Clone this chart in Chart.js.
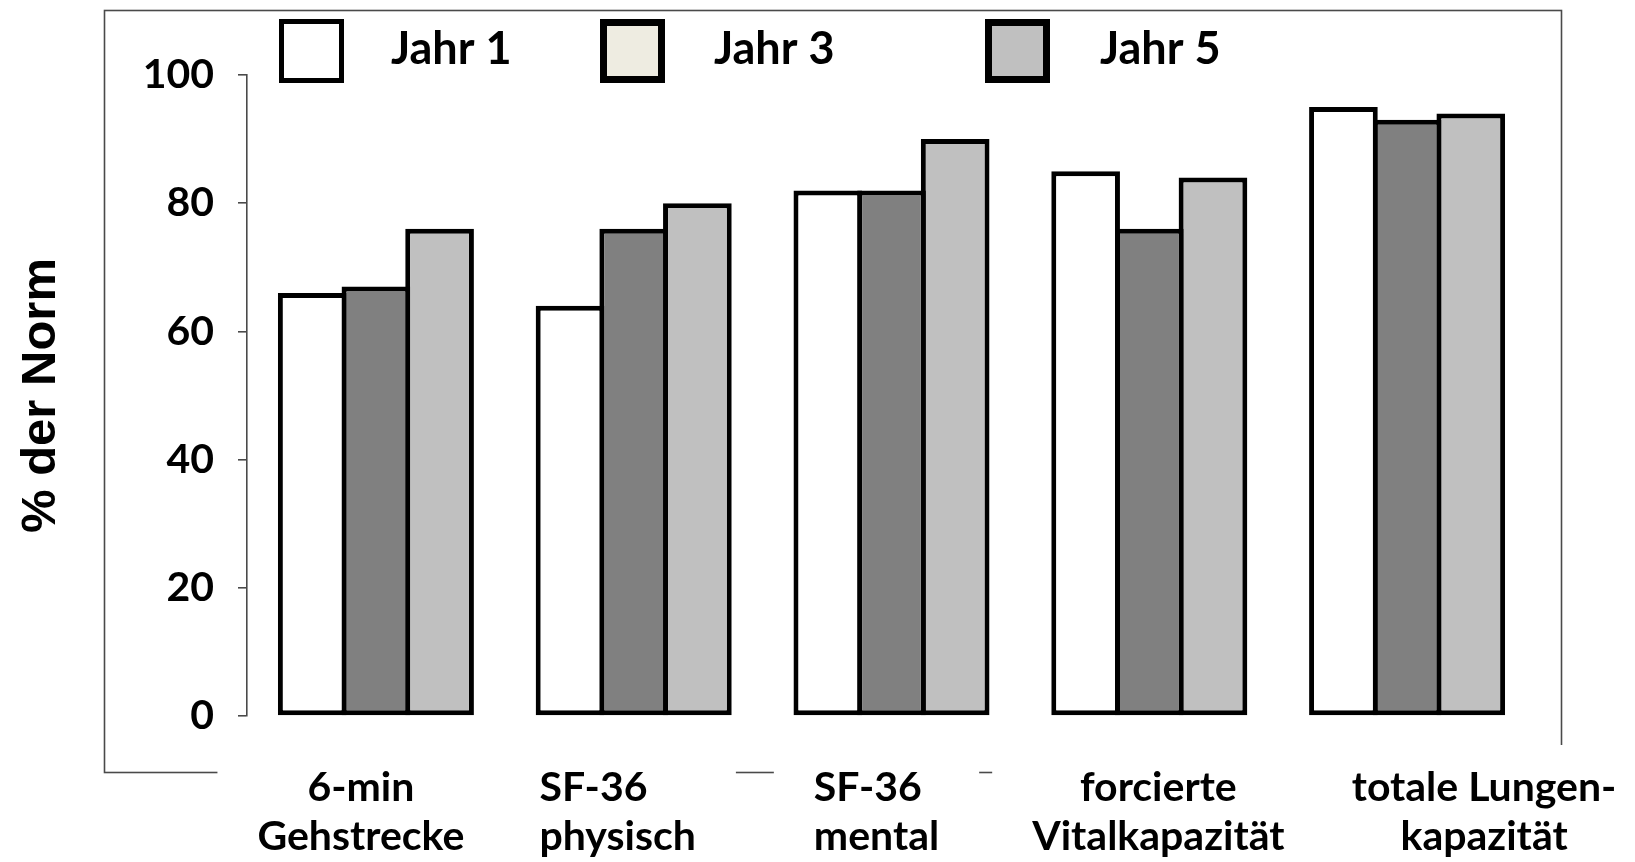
<!DOCTYPE html>
<html>
<head>
<meta charset="utf-8">
<script src="https://cdn.jsdelivr.net/npm/chart.js@4/dist/chart.umd.min.js"></script>
<style>
  html, body { margin: 0; padding: 0; background: #ffffff; }
  #wrap { width: 1635px; height: 862px; }
</style>
</head>
<body>
<div id="wrap"><canvas id="c" width="1635" height="862"></canvas></div>
<script>
// Outcome measures, each as two label lines
const categories = [
  ["6-min", "Gehstrecke"],
  ["SF-36", "physisch"],
  ["SF-36", "mental"],
  ["forcierte", "Vitalkapazität"],
  ["totale Lungen-", "kapazität"]
];
const seriesNames = ["Jahr 1", "Jahr 3", "Jahr 5"];
// % der Norm per year
const jahr1 = [66, 64, 82, 85, 95];
const jahr3 = [67, 76, 82, 76, 93];
const jahr5 = [76, 80, 90, 84, 94];
const yTicks = [0, 20, 40, 60, 80, 100];

const barFill = ["#ffffff", "#808080", "#c0c0c0"];
const legendFill = ["#ffffff", "#eeece1", "#c0c0c0"];
const legendBorder = [5, 7, 7];
const legendSlots = [
  { box: 279, text: 391 },
  { box: 600, text: 714 },
  { box: 985, text: 1100 }
];
// horizontal placement of each category label block relative to its group
const labelShift = [-15, -16, -15, 9, 77];
const labelAlign = ['center', 'left', 'left', 'center', 'center'];

const CALIBRI_LIKE = "Lato, 'Open Sans', sans-serif";
const ARIAL_LIKE = "'Liberation Sans', Arial, sans-serif";
const CAT_FONT = { family: CALIBRI_LIKE, weight: 'bold', size: 41, lineHeight: '49px' };

// outer chart frame; the category labels sit on white boxes that hide parts of its lower edge
const framePlugin = {
  id: 'frame',
  beforeDraw(chart) {
    const ctx = chart.ctx;
    ctx.save();
    ctx.strokeStyle = '#4a4a4a';
    ctx.lineWidth = 1.6;
    ctx.strokeRect(104.5, 10.5, 1457, 762);

    const xs = chart.scales.x;
    ctx.font = 'bold ' + CAT_FONT.size + 'px ' + CALIBRI_LIKE;
    const items = typeof xs.getLabelItems === 'function' ? xs.getLabelItems() : [];
    chart.data.labels.forEach((lines, i) => {
      const w = Math.max(...lines.map(t => ctx.measureText(t).width));
      const cx = xs.getPixelForTick(i) + labelShift[i];
      ctx.fillStyle = '#ffffff';
      ctx.fillRect(cx - w / 2 - 40, 745, w + 80, chart.height - 745);
      const item = items[i];
      if (item && item.options && item.options.translation) {
        if (labelAlign[i] === 'left') {
          item.options.textAlign = 'left';
          item.options.translation[0] = cx - w / 2;
        } else {
          item.options.translation[0] = cx;
        }
      }
    });
    ctx.restore();
  }
};

// series key across the top of the frame
const keyPlugin = {
  id: 'key',
  afterDraw(chart) {
    const ctx = chart.ctx;
    ctx.save();
    chart.data.datasets.forEach((ds, i) => {
      const slot = legendSlots[i];
      const bw = legendBorder[i];
      const top = 19, size = 64;
      ctx.fillStyle = '#000000';
      ctx.fillRect(slot.box, top, size + 1, size);
      ctx.fillStyle = legendFill[i];
      ctx.fillRect(slot.box + bw, top + bw, size + 1 - 2 * bw, size - 2 * bw);
      ctx.fillStyle = '#000000';
      ctx.font = "bold 45px " + CALIBRI_LIKE;
      ctx.textBaseline = 'middle';
      ctx.textAlign = 'left';
      ctx.fillText(ds.label, slot.text, 49);
    });
    ctx.restore();
  }
};

function build() {
  const datasets = [jahr1, jahr3, jahr5].map((vals, i) => ({
    label: seriesNames[i],
    data: vals,
    backgroundColor: barFill[i],
    borderColor: '#000000',
    borderWidth: 5,
    borderSkipped: false,
    categoryPercentage: 0.741,
    barPercentage: 1.0785
  }));

  new Chart(document.getElementById('c'), {
    type: 'bar',
    data: { labels: categories, datasets },
    plugins: [framePlugin, keyPlugin],
    options: {
      responsive: false,
      animation: false,
      devicePixelRatio: 1,
      layout: { padding: { left: 17, right: 99, top: 75, bottom: 0 } },
      plugins: {
        legend: { display: false },
        tooltip: { enabled: false }
      },
      scales: {
        x: {
          grid: { display: false, drawTicks: false },
          border: { display: false },
          ticks: {
            color: '#000000',
            font: CAT_FONT,
            padding: 47,
            maxRotation: 0,
            autoSkip: false
          },
          afterFit(scale) { scale.height = 146; }
        },
        y: {
          min: 0,
          max: 100,
          afterBuildTicks(scale) { scale.ticks = yTicks.map(v => ({ value: v })); },
          grid: { display: true, drawOnChartArea: false, drawTicks: true, tickLength: 9, color: '#4a4a4a', lineWidth: 1.6 },
          border: { display: true, color: '#4a4a4a', width: 1.6 },
          ticks: {
            color: '#000000',
            font: { family: CALIBRI_LIKE, weight: 'bold', size: 41 },
            padding: 24
          },
          title: {
            display: true,
            text: '% der Norm',
            color: '#000000',
            font: { family: ARIAL_LIKE, weight: 'bold', size: 49, lineHeight: 1 },
            padding: { top: 0, bottom: 0 }
          },
          afterFit(scale) { scale.width = 230; }
        }
      }
    }
  });
}

Promise.all([
  document.fonts.load("bold 41px Lato"),
  document.fonts.load("bold 49px 'Liberation Sans'")
]).catch(() => {}).then(build);
</script>
</body>
</html>
